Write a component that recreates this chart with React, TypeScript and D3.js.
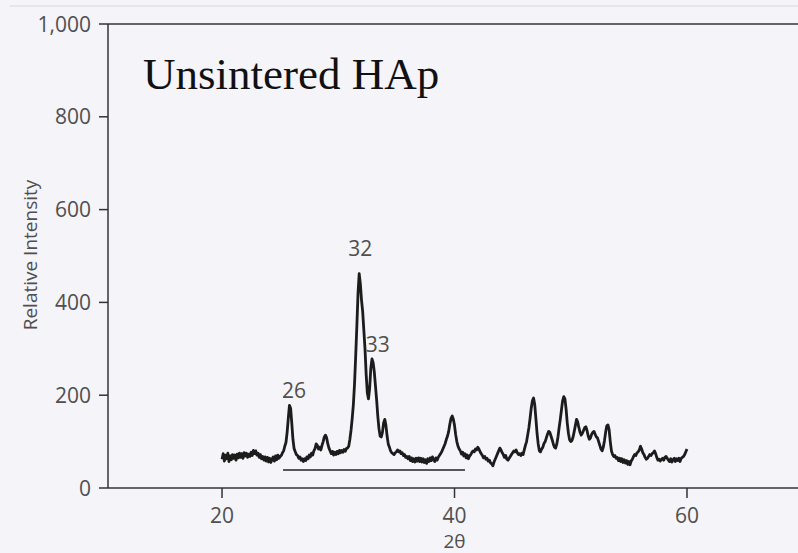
import * as d3 from "d3";

// XRD pattern, intensity read every 0.1 deg of 2θ from 20 to 60
const angleStart = 20
const angleStep = 0.1
const intensity = [
  62, 74, 58, 71, 63, 75, 57, 69, 61, 72,
  64, 71, 60, 73, 65, 75, 66, 74, 64, 76,
  69, 75, 66, 73, 68, 77, 70, 81, 74, 80,
  71, 75, 66, 72, 63, 68, 60, 67, 58, 66,
  56, 64, 55, 62, 67, 58, 69, 61, 71, 64,
  68, 70, 76, 80, 90, 98, 120, 150, 178, 172,
  140, 105, 85, 78, 72, 70, 64, 67, 60, 63,
  57, 63, 59, 67, 63, 71, 67, 75, 71, 80,
  85, 95, 92, 84, 88, 82, 92, 100, 110, 114,
  108, 95, 86, 80, 74, 79, 71, 77, 72, 79,
  74, 81, 76, 81, 77, 83, 79, 85, 86, 90,
  105, 125, 150, 180, 225, 285, 350, 420, 462, 440,
  405, 380, 340, 300, 245, 205, 192, 215, 258, 278,
  270, 250, 220, 190, 155, 128, 112, 110, 120, 140,
  148, 135, 112, 95, 88, 80, 76, 74, 72, 76,
  78, 82, 78, 80, 74, 76, 70, 72, 66, 68,
  63, 68, 59, 65, 57, 63, 56, 64, 58, 65,
  57, 64, 56, 63, 55, 61, 53, 63, 57, 65,
  59, 67, 61, 57, 65, 60, 66, 70, 74, 78,
  84, 90, 96, 105, 112, 122, 138, 150, 155, 148,
  135, 115, 100, 90, 84, 80, 73, 77, 69, 74,
  65, 71, 63, 69, 72, 77, 80, 78, 84, 82,
  88, 84, 78, 74, 70, 65, 68, 62, 64, 58,
  60, 54, 52, 48, 56, 62, 68, 74, 80, 86,
  82, 76, 72, 66, 70, 62, 60, 64, 68, 72,
  76, 80, 78, 82, 76, 72, 74, 70, 75, 72,
  82, 92, 100, 115, 130, 150, 172, 188, 194, 180,
  150, 118, 95, 80, 78, 84, 88, 96, 100, 108,
  116, 122, 120, 112, 104, 95, 88, 86, 95, 110,
  130, 148, 168, 188, 197, 192, 170, 140, 118, 104,
  100, 102, 110, 122, 135, 148, 142, 130, 120, 114,
  118, 124, 130, 132, 124, 112, 105, 108, 116, 120,
  122, 116, 110, 108, 100, 92, 84, 80, 88, 102,
  120, 134, 136, 126, 100, 80, 72, 68, 70, 64,
  66, 59, 64, 57, 63, 55, 61, 54, 59, 51,
  57, 50, 58, 62, 68, 72, 70, 76, 78, 82,
  90, 84, 76, 72, 66, 62, 64, 68, 72, 70,
  74, 76, 80, 74, 66, 60, 62, 58, 62, 64,
  60, 66, 68, 64, 60, 57, 63, 56, 61, 64,
  57, 63, 59, 64, 57, 64, 66, 68, 72, 78,
  84,
]

const peakLabels = ["26", "32", "33"]
const peakAngles = [26.2, 31.9, 33.4]
const peakHeights = [194, 500, 293]

// reference bar under the pattern
const barAngles = [25.25, 40.9]
const barLevel = 39

const xTicks = [20, 40, 60]
const yTicks = [0, 200, 400, 600, 800, 1000]

const width = 798
const height = 553
const labelFont = "'Open Sans', sans-serif"
const labelColor = "#4f4f4f"

export default function App() {
  const x = d3.scaleLinear().domain([10.19, 69.55]).range([108, 798])
  const y = d3.scaleLinear().domain([0, 1000]).range([488, 24])

  const points: [number, number][] = intensity.map((v, i) => [angleStart + i * angleStep, v])
  const line = d3.line<[number, number]>().x(d => x(d[0])).y(d => y(d[1]))

  const [x0, x1] = x.range()
  const [yBottom, yTop] = y.range()

  return (
    <svg width={width} height={height} style={{ position: "absolute", left: 0, top: 0, background: "#f5f4f9" }}>
      <line x1={10} x2={width} y1={6} y2={6} stroke="#e2e1e7" strokeWidth={1.5} />

      {/* axes */}
      <line x1={x0} x2={x0} y1={yTop} y2={yBottom} stroke="#333" strokeWidth={1.5} />
      <line x1={x0} x2={x1} y1={yBottom} y2={yBottom} stroke="#333" strokeWidth={1.5} />
      <line x1={x0} x2={x1} y1={yTop} y2={yTop} stroke="#333" strokeWidth={1.5} />

      {yTicks.map(t => (
        <g key={t}>
          <line x1={x0 - 9} x2={x0} y1={y(t)} y2={y(t)} stroke="#333" strokeWidth={1.5} />
          <text x={x0 - 17} y={y(t)} dy="0.36em" textAnchor="end"
            fontFamily={labelFont} fontSize={21} fill={labelColor}>
            {d3.format(",")(t)}
          </text>
        </g>
      ))}

      {xTicks.map(t => (
        <g key={t}>
          <line x1={x(t)} x2={x(t)} y1={yBottom} y2={yBottom + 10} stroke="#333" strokeWidth={1.5} />
          <text x={x(t)} y={523} textAnchor="middle"
            fontFamily={labelFont} fontSize={21} fill={labelColor}>
            {t}
          </text>
        </g>
      ))}

      <text x={x(40)} y={548} textAnchor="middle" fontFamily={labelFont} fontSize={19} fill={labelColor}>
        2θ
      </text>
      <text transform="translate(37, 255) rotate(-90)" textAnchor="middle"
        fontFamily={labelFont} fontSize={19} fill={labelColor}>
        Relative Intensity
      </text>

      <text x={143} y={89} fontFamily="'Liberation Serif', 'Times New Roman', serif" fontSize={45} fill="#111">
        Unsintered HAp
      </text>

      {/* baseline bar */}
      <line x1={x(barAngles[0])} x2={x(barAngles[1])} y1={y(barLevel)} y2={y(barLevel)}
        stroke="#222" strokeWidth={1.5} />

      <path d={line(points) || ""} fill="none" stroke="#1c1c1c" strokeWidth={2.8} strokeLinejoin="round" />

      {peakLabels.map((l, i) => (
        <text key={l} x={x(peakAngles[i])} y={y(peakHeights[i])} textAnchor="middle"
          fontFamily={labelFont} fontSize={21} fill={labelColor}>
          {l}
        </text>
      ))}
    </svg>
  )
}
